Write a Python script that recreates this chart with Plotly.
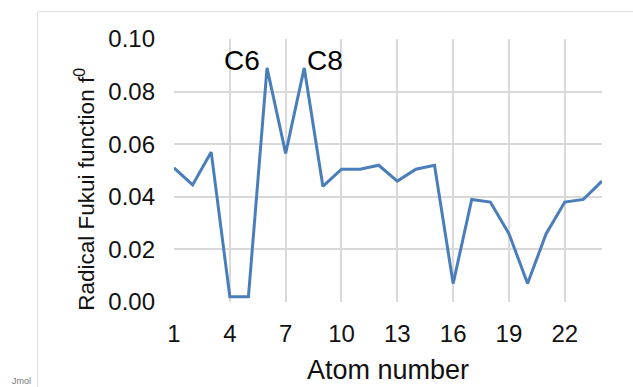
import plotly.graph_objects as go

atoms = list(range(1, 25))
fukui = [0.051, 0.0445, 0.057, 0.002, 0.002, 0.089, 0.0565, 0.089, 0.044, 0.0505,
         0.0505, 0.052, 0.046, 0.0505, 0.052, 0.007, 0.039, 0.038, 0.026, 0.007,
         0.026, 0.038, 0.039, 0.046]
x_ticks = [1, 4, 7, 10, 13, 16, 19, 22]
y_ticks = [0.00, 0.02, 0.04, 0.06, 0.08, 0.10]
labels = [("C6", 6, "right", -5), ("C8", 8, "left", 1)]

FONT = "Liberation Sans, Arial, sans-serif"

fig = go.Figure()
fig.add_trace(go.Scatter(x=atoms, y=fukui, mode="lines",
                         line=dict(color="#4a7ebb", width=3), showlegend=False,
                         hoverinfo="skip"))

for text, idx, anchor, xs in labels:
    fig.add_annotation(x=idx, y=fukui[idx - 1], text=text, showarrow=False,
                       xanchor=anchor, yanchor="bottom", xshift=xs, yshift=-10,
                       font=dict(family=FONT, size=28, color="#000"))

# y axis title as rotated annotation
fig.add_annotation(xref="paper", yref="paper", x=-0.2084, y=0.43,
                   text="Radical Fukui function f<sup>0</sup>", textangle=-90,
                   showarrow=False, xanchor="center", yanchor="middle",
                   font=dict(family=FONT, size=22.5, color="#111"))

# Jmol watermark
fig.add_annotation(xref="paper", yref="paper", x=-0.356, y=-0.3,
                   text="Jmol", showarrow=False, xanchor="center", yanchor="middle",
                   font=dict(family=FONT, size=9, color="#777"))

fig.update_layout(
    width=633, height=387,
    margin=dict(l=174, r=31, t=39, b=85, autoexpand=False),
    paper_bgcolor="white", plot_bgcolor="white",
    shapes=[
        dict(type="line", xref="paper", yref="paper", x0=-0.3185, x1=1.08, y0=1.104, y1=1.104,
             line=dict(color="#dddddd", width=1)),
        dict(type="line", xref="paper", yref="paper", x0=-0.3185, x1=-0.3185, y0=1.104, y1=-0.34,
             line=dict(color="#dddddd", width=1)),
    ],
)

fig.update_xaxes(range=[1, 24], tickvals=x_ticks, ticktext=[str(v) for v in x_ticks],
                 showgrid=True, gridcolor="#d9d9d9", gridwidth=1.5, zeroline=False,
                 showline=False, ticks="", ticklabelstandoff=15, automargin=False,
                 tickfont=dict(family=FONT, size=24, color="#111"),
                 title=dict(text="Atom number", standoff=14,
                            font=dict(family=FONT, size=27, color="#111")))
fig.update_yaxes(range=[0, 0.1], tickvals=y_ticks, tickformat=".2f",
                 showgrid=True, gridcolor="#d9d9d9", gridwidth=1.5, zeroline=False,
                 showline=False, ticks="", ticklabelstandoff=18, automargin=False,
                 tickfont=dict(family=FONT, size=24, color="#111"))

fig.write_html("out.html")
